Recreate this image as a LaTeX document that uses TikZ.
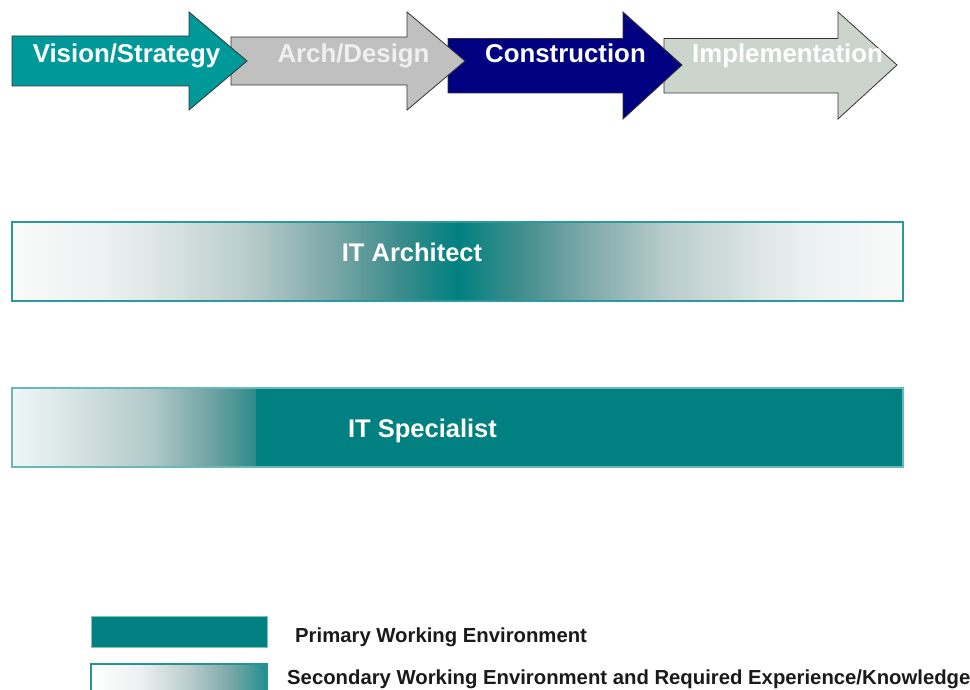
\documentclass[tikz,border=0pt]{standalone}
\usepackage{fontspec}
\setmainfont{Liberation Sans}
\definecolor{tealc}{HTML}{008080}
\definecolor{visionc}{HTML}{009999}
\definecolor{archc}{HTML}{C0C0C0}
\definecolor{constc}{HTML}{000080}
\definecolor{implc}{HTML}{CBD5CB}
\definecolor{edgec}{HTML}{333333}
\definecolor{bordc}{HTML}{2A9A9A}
\definecolor{dotc}{HTML}{1C8C8C}
\definecolor{legtxt}{HTML}{1A1A1A}
\definecolor{ga}{HTML}{F9FAFA}
\definecolor{gb}{HTML}{EDF1F1}
\definecolor{gc}{HTML}{DEE6E6}
\definecolor{gd}{HTML}{B9CCCC}
\definecolor{ge}{HTML}{7FA9A9}
\definecolor{gf}{HTML}{3D8C8C}
\definecolor{sa}{HTML}{EEF6F6}
\definecolor{sb}{HTML}{DCE8E8}
\definecolor{sc}{HTML}{B3CACA}
\definecolor{sd}{HTML}{6FA2A2}
\definecolor{se}{HTML}{2E8A8A}
\pgfdeclarehorizontalshading{archleft}{100bp}{color(0bp)=(ga); color(25bp)=(ga); color(35bp)=(gb); color(41bp)=(gc); color(51.5bp)=(gd); color(60.5bp)=(ge); color(68.5bp)=(gf); color(75bp)=(tealc); color(100bp)=(tealc)}
\pgfdeclarehorizontalshading{archright}{100bp}{color(0bp)=(tealc); color(25bp)=(tealc); color(31.5bp)=(gf); color(39.5bp)=(ge); color(48.5bp)=(gd); color(59bp)=(gc); color(65bp)=(gb); color(75bp)=(ga); color(100bp)=(ga)}
\pgfdeclarehorizontalshading{specleft}{100bp}{color(0bp)=(sa); color(25bp)=(sa); color(35bp)=(sb); color(53bp)=(sc); color(66bp)=(sd); color(75bp)=(se); color(100bp)=(se)}
\pgfdeclarehorizontalshading{legleft}{100bp}{color(0bp)=(white); color(25bp)=(white); color(39bp)=(gb); color(53bp)=(gd); color(64bp)=(ge); color(75bp)=(tealc!88!white); color(100bp)=(tealc!88!white)}
\begin{document}
\begin{tikzpicture}[x=1pt,y=-1pt,
  arrowshape/.style={draw=edgec,line width=0.8pt,line join=miter},
  phase/.style={font=\fontsize{25.8}{30}\selectfont\bfseries,anchor=base,inner sep=0pt},
  role/.style={font=\fontsize{25.5}{30}\selectfont\bfseries,anchor=base,inner sep=0pt,text=white},
  legend/.style={font=\fontsize{20.3}{24}\selectfont\bfseries,anchor=base west,inner sep=0pt,text=legtxt}]
\useasboundingbox (0,0) rectangle (970,690);
% phase arrows (drawn right to left so tips overlap next body)
\draw[arrowshape,fill=implc] (664,38.5) -- (838,38.5) -- (838,12) -- (897,65) -- (838,119) -- (838,93) -- (664,93) -- cycle;
\draw[arrowshape,fill=constc] (448,38.5) -- (623,38.5) -- (623,12) -- (682,65) -- (623,119) -- (623,93) -- (448,93) -- cycle;
\draw[arrowshape,fill=archc] (231,37) -- (407,37) -- (407,12) -- (465,61) -- (407,110) -- (407,85) -- (231,85) -- cycle;
\draw[arrowshape,fill=visionc] (12,36) -- (189,36) -- (189,12) -- (247,61) -- (189,110) -- (189,86) -- (12,86) -- cycle;
\node[phase,text=white] (vision) at (126.5,63) {Vision/Strategy};
\node[phase,text=white!94!black] (arch) at (353.5,63) {Arch/Design};
\node[phase,text=white] (constr) at (565.5,63) {Construction};
\node[phase,text=white] (impl) at (787.5,63) {Implementation};
% IT Architect bar
\shade[shading=archleft] (12,222) rectangle (457.5,301);
\shade[shading=archright] (457.5,222) rectangle (903,301);
\draw[bordc,line width=1.2pt] (12,222) rectangle (903,301);
\node[role] (arch-role) at (412,261) {IT Architect};
% IT Specialist bar
\fill[tealc] (256,388) rectangle (903,467);
\foreach \xx in {260,268,...,900}{
  \foreach \yy in {394,402,...,464}{
    \fill[dotc] (\xx,\yy) circle (0.7);
  }
}
\shade[shading=specleft] (12,388) rectangle (256,467);
\draw[bordc!70!white,line width=1.2pt] (12,388) rectangle (903,467);
\node[role] (spec-role) at (422.5,437) {IT Specialist};
% legend
\fill[tealc] (91,616) rectangle (267,647);
\draw[bordc!60!white,line width=0.6pt] (91,616) rectangle (267,647);
\node[legend] (prim) at (295,642) {Primary Working Environment};
\shade[shading=legleft] (91,664) rectangle (267,692);
\draw[tealc!85!white,line width=1.4pt] (267,692) -- (267,664) -- (91,664) -- (91,692);
\node[legend] (sec) at (287,684) {Secondary Working Environment and Required Experience/Knowledge};
\end{tikzpicture}
\end{document}
